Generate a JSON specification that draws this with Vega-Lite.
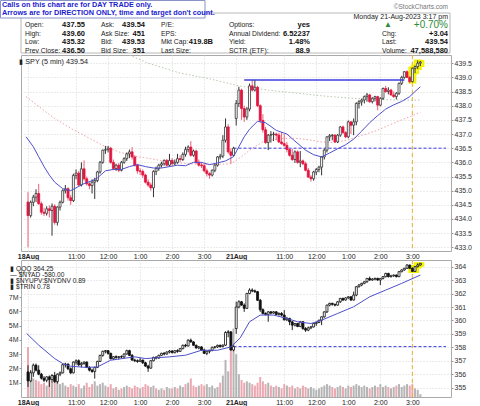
{
"$schema":"https://vega.github.io/schema/vega-lite/v6.json",
"padding":0,
"background":"white",
"bounds":"flush",
"spacing":9,
"config":{
 "font":"Liberation Sans",
 "view":{"stroke":"#aaaaaa"},
 "axis":{"labelFont":"Liberation Sans","labelFontSize":7,"labelColor":"#333333","domain":false,"ticks":false,"title":null,"labelPadding":2,"gridColor":"#d6d6d6","gridDash":[1,2]},
 "title":{"font":"Liberation Sans","fontWeight":"normal","color":"#222222"}
},
"datasets":{
"spy":[
{"i":0,"o":434.6,"h":434.95,"l":433.0,"c":434.12},{"i":1,"o":434.12,"h":434.65,"l":434.05,"c":434.59},{"i":2,"o":434.59,"h":434.85,"l":434.45,"c":434.77},{"i":3,"o":434.77,"h":435.05,"l":434.6,"c":434.9},{"i":4,"o":434.9,"h":435.24,"l":434.5,"c":434.54},{"i":5,"o":434.54,"h":434.62,"l":434.15,"c":434.24},{"i":6,"o":434.24,"h":434.4,"l":434.1,"c":434.2},{"i":7,"o":434.2,"h":434.45,"l":434.12,"c":434.36},{"i":8,"o":434.36,"h":434.48,"l":434.05,"c":434.3},{"i":9,"o":434.3,"h":434.55,"l":433.41,"c":434.45},
{"i":10,"o":434.45,"h":434.52,"l":433.8,"c":433.88},{"i":11,"o":433.88,"h":434.45,"l":433.77,"c":434.42},{"i":12,"o":434.42,"h":434.65,"l":434.3,"c":434.59},{"i":13,"o":434.59,"h":435.05,"l":434.55,"c":435.0},{"i":14,"o":435.0,"h":435.2,"l":434.9,"c":435.07},{"i":15,"o":435.07,"h":435.12,"l":434.65,"c":434.75},{"i":16,"o":434.75,"h":434.85,"l":434.5,"c":434.65},{"i":17,"o":434.65,"h":435.6,"l":434.6,"c":435.54},{"i":18,"o":435.54,"h":435.75,"l":435.4,"c":435.62},{"i":19,"o":435.62,"h":435.7,"l":435.15,"c":435.2},
{"i":20,"o":435.2,"h":436.0,"l":435.15,"c":435.77},{"i":21,"o":435.77,"h":436.07,"l":435.35,"c":435.42},{"i":22,"o":435.42,"h":435.5,"l":435.18,"c":435.24},{"i":23,"o":435.24,"h":435.3,"l":435.05,"c":435.18},{"i":24,"o":435.18,"h":435.4,"l":434.9,"c":435.3},{"i":25,"o":435.3,"h":435.45,"l":434.71,"c":435.36},{"i":26,"o":435.36,"h":435.7,"l":435.3,"c":435.66},{"i":27,"o":435.66,"h":436.05,"l":435.6,"c":436.0},{"i":28,"o":436.0,"h":436.45,"l":435.95,"c":436.43},{"i":29,"o":436.43,"h":436.58,"l":436.3,"c":436.45},
{"i":30,"o":436.45,"h":436.58,"l":436.35,"c":436.5},{"i":31,"o":436.5,"h":436.55,"l":435.95,"c":436.0},{"i":32,"o":436.0,"h":436.1,"l":435.72,"c":435.78},{"i":33,"o":435.78,"h":435.95,"l":435.7,"c":435.9},{"i":34,"o":435.9,"h":435.98,"l":435.65,"c":435.72},{"i":35,"o":435.72,"h":436.05,"l":435.68,"c":436.0},{"i":36,"o":436.0,"h":436.18,"l":435.95,"c":436.13},{"i":37,"o":436.13,"h":436.35,"l":436.05,"c":436.3},{"i":38,"o":436.3,"h":436.45,"l":436.15,"c":436.37},{"i":39,"o":436.37,"h":436.54,"l":436.1,"c":436.19},
{"i":40,"o":436.19,"h":436.25,"l":435.85,"c":435.9},{"i":41,"o":435.9,"h":435.95,"l":435.6,"c":435.7},{"i":42,"o":435.7,"h":435.8,"l":435.55,"c":435.68},{"i":43,"o":435.68,"h":435.75,"l":435.45,"c":435.55},{"i":44,"o":435.55,"h":435.6,"l":435.25,"c":435.3},{"i":45,"o":435.3,"h":435.4,"l":435.13,"c":435.2},{"i":46,"o":435.2,"h":435.28,"l":435.0,"c":435.1},{"i":47,"o":435.1,"h":435.72,"l":434.77,"c":435.68},{"i":48,"o":435.68,"h":435.85,"l":435.55,"c":435.78},{"i":49,"o":435.78,"h":435.95,"l":435.7,"c":435.9},
{"i":50,"o":435.9,"h":436.02,"l":435.82,"c":435.95},{"i":51,"o":435.95,"h":436.1,"l":435.88,"c":436.07},{"i":52,"o":436.07,"h":436.12,"l":435.85,"c":435.9},{"i":53,"o":435.9,"h":436.3,"l":435.85,"c":436.07},{"i":54,"o":436.07,"h":436.15,"l":435.88,"c":435.95},{"i":55,"o":435.95,"h":436.1,"l":435.9,"c":436.0},{"i":56,"o":436.0,"h":436.3,"l":435.95,"c":436.13},{"i":57,"o":436.13,"h":436.25,"l":436.0,"c":436.1},{"i":58,"o":436.1,"h":436.35,"l":436.05,"c":436.28},{"i":59,"o":436.28,"h":436.55,"l":436.2,"c":436.45},
{"i":60,"o":436.45,"h":436.6,"l":436.35,"c":436.54},{"i":61,"o":436.54,"h":436.75,"l":436.2,"c":436.25},{"i":62,"o":436.25,"h":436.45,"l":436.2,"c":436.4},{"i":63,"o":436.4,"h":436.45,"l":435.95,"c":436.0},{"i":64,"o":436.0,"h":436.1,"l":435.85,"c":435.9},{"i":65,"o":435.9,"h":436.0,"l":435.8,"c":435.88},{"i":66,"o":435.88,"h":435.95,"l":435.65,"c":435.7},{"i":67,"o":435.7,"h":435.78,"l":435.5,"c":435.6},{"i":68,"o":435.6,"h":435.65,"l":435.42,"c":435.55},{"i":69,"o":435.55,"h":435.75,"l":435.5,"c":435.72},
{"i":70,"o":435.72,"h":435.95,"l":435.65,"c":435.9},{"i":71,"o":435.9,"h":436.22,"l":435.85,"c":436.19},{"i":72,"o":436.19,"h":436.3,"l":436.1,"c":436.22},{"i":73,"o":436.22,"h":436.96,"l":436.15,"c":436.78},{"i":74,"o":436.78,"h":437.55,"l":436.7,"c":437.25},{"i":75,"o":437.25,"h":437.35,"l":436.3,"c":436.37},{"i":76,"o":436.37,"h":436.5,"l":435.95,"c":436.25},{"i":77,"o":436.25,"h":436.55,"l":436.2,"c":436.5},
{"i":78,"o":437.55,"h":438.2,"l":437.3,"c":438.08},{"i":79,"o":438.08,"h":438.67,"l":437.95,"c":438.55},{"i":80,"o":438.55,"h":438.6,"l":437.5,"c":437.9},{"i":81,"o":437.9,"h":438.0,"l":437.43,"c":437.6},{"i":82,"o":437.6,"h":437.95,"l":437.5,"c":437.88},{"i":83,"o":437.88,"h":438.78,"l":437.8,"c":438.7},{"i":84,"o":438.7,"h":438.91,"l":438.5,"c":438.55},{"i":85,"o":438.55,"h":438.91,"l":438.5,"c":438.65},{"i":86,"o":438.65,"h":438.7,"l":437.95,"c":438.0},{"i":87,"o":438.0,"h":438.05,"l":437.4,"c":437.48},
{"i":88,"o":437.48,"h":437.7,"l":437.05,"c":437.15},{"i":89,"o":437.15,"h":437.25,"l":436.65,"c":436.7},{"i":90,"o":436.7,"h":437.0,"l":436.43,"c":436.96},{"i":91,"o":436.96,"h":437.1,"l":436.7,"c":436.98},{"i":92,"o":436.98,"h":437.08,"l":436.75,"c":437.0},{"i":93,"o":437.0,"h":437.05,"l":436.78,"c":436.96},{"i":94,"o":436.96,"h":437.05,"l":436.68,"c":436.72},{"i":95,"o":436.72,"h":437.07,"l":436.62,"c":436.66},{"i":96,"o":436.66,"h":437.0,"l":436.55,"c":436.6},{"i":97,"o":436.6,"h":436.72,"l":436.35,"c":436.45},
{"i":98,"o":436.45,"h":436.5,"l":436.2,"c":436.25},{"i":99,"o":436.25,"h":436.48,"l":436.05,"c":436.1},{"i":100,"o":436.1,"h":436.42,"l":435.98,"c":436.37},{"i":101,"o":436.37,"h":436.42,"l":435.95,"c":436.0},{"i":102,"o":436.0,"h":436.4,"l":435.83,"c":436.05},{"i":103,"o":436.05,"h":436.1,"l":435.9,"c":435.95},{"i":104,"o":435.95,"h":436.02,"l":435.68,"c":435.72},{"i":105,"o":435.72,"h":435.8,"l":435.45,"c":435.48},{"i":106,"o":435.48,"h":435.55,"l":435.32,"c":435.42},{"i":107,"o":435.42,"h":435.7,"l":435.35,"c":435.66},
{"i":108,"o":435.66,"h":435.8,"l":435.55,"c":435.75},{"i":109,"o":435.75,"h":435.88,"l":435.65,"c":435.83},{"i":110,"o":435.83,"h":436.22,"l":435.54,"c":436.19},{"i":111,"o":436.19,"h":436.48,"l":436.1,"c":436.43},{"i":112,"o":436.43,"h":436.92,"l":436.35,"c":436.9},{"i":113,"o":436.9,"h":437.0,"l":436.75,"c":436.94},{"i":114,"o":436.94,"h":437.0,"l":436.78,"c":436.96},{"i":115,"o":436.96,"h":437.0,"l":436.68,"c":436.72},{"i":116,"o":436.72,"h":437.0,"l":436.68,"c":436.96},{"i":117,"o":436.96,"h":437.28,"l":436.9,"c":437.25},
{"i":118,"o":437.25,"h":437.3,"l":437.0,"c":437.05},{"i":119,"o":437.05,"h":437.1,"l":436.85,"c":436.9},{"i":120,"o":436.9,"h":437.48,"l":436.85,"c":437.43},{"i":121,"o":437.43,"h":437.45,"l":437.0,"c":437.31},{"i":122,"o":437.31,"h":437.55,"l":436.96,"c":437.43},{"i":123,"o":437.43,"h":438.12,"l":437.31,"c":438.08},{"i":124,"o":438.08,"h":438.2,"l":437.9,"c":438.14},{"i":125,"o":438.14,"h":438.25,"l":438.0,"c":438.2},{"i":126,"o":438.2,"h":438.36,"l":438.08,"c":438.32},{"i":127,"o":438.32,"h":438.45,"l":438.14,"c":438.38},
{"i":128,"o":438.38,"h":438.42,"l":438.1,"c":438.14},{"i":129,"o":438.14,"h":438.3,"l":438.08,"c":438.26},{"i":130,"o":438.26,"h":438.35,"l":438.15,"c":438.32},{"i":131,"o":438.32,"h":438.35,"l":437.84,"c":438.02},{"i":132,"o":438.02,"h":438.3,"l":437.98,"c":438.26},{"i":133,"o":438.26,"h":438.64,"l":438.2,"c":438.61},{"i":134,"o":438.61,"h":438.7,"l":438.45,"c":438.5},{"i":135,"o":438.5,"h":438.65,"l":438.4,"c":438.55},{"i":136,"o":438.55,"h":438.6,"l":438.35,"c":438.38},{"i":137,"o":438.38,"h":438.5,"l":438.28,"c":438.32},
{"i":138,"o":438.32,"h":438.48,"l":438.22,"c":438.44},{"i":139,"o":438.44,"h":438.82,"l":438.38,"c":438.79},{"i":140,"o":438.79,"h":439.05,"l":438.73,"c":439.0},{"i":141,"o":439.0,"h":439.22,"l":438.95,"c":439.2},{"i":142,"o":439.2,"h":439.25,"l":438.98,"c":439.0},{"i":143,"o":439.0,"h":439.05,"l":438.79,"c":438.85},{"i":144,"o":438.85,"h":439.35,"l":438.82,"c":439.32},{"i":145,"o":439.32,"h":439.42,"l":439.15,"c":439.38},{"i":146,"o":439.38,"h":439.6,"l":439.3,"c":439.5},{"i":147,"o":439.5,"h":439.58,"l":439.4,"c":439.54}
],
"qqq":[
{"i":0,"o":356.17,"h":356.66,"l":355.05,"c":355.5,"v":3.5},{"i":1,"o":355.5,"h":356.3,"l":355.4,"c":356.1,"v":1.8},{"i":2,"o":356.1,"h":356.79,"l":355.8,"c":356.67,"v":1.3},{"i":3,"o":356.67,"h":356.79,"l":356.2,"c":356.3,"v":1.2},{"i":4,"o":356.3,"h":356.66,"l":355.92,"c":356.0,"v":1.1},{"i":5,"o":356.0,"h":356.1,"l":355.6,"c":355.7,"v":0.9},{"i":6,"o":355.7,"h":355.85,"l":355.42,"c":355.55,"v":1.0},{"i":7,"o":355.55,"h":355.85,"l":355.4,"c":355.8,"v":0.8},{"i":8,"o":355.8,"h":355.9,"l":355.05,"c":355.6,"v":1.2},{"i":9,"o":355.6,"h":356.0,"l":355.35,"c":355.9,"v":1.0},
{"i":10,"o":355.9,"h":356.17,"l":355.35,"c":355.45,"v":1.3},{"i":11,"o":355.45,"h":356.05,"l":355.3,"c":356.0,"v":1.1},{"i":12,"o":356.0,"h":356.2,"l":355.85,"c":356.1,"v":0.9},{"i":13,"o":356.1,"h":356.79,"l":356.05,"c":356.7,"v":1.0},{"i":14,"o":356.7,"h":356.85,"l":356.5,"c":356.75,"v":0.8},{"i":15,"o":356.75,"h":356.8,"l":356.3,"c":356.4,"v":0.7},{"i":16,"o":356.4,"h":356.5,"l":356.0,"c":356.1,"v":0.9},{"i":17,"o":356.1,"h":356.95,"l":356.05,"c":356.9,"v":0.8},{"i":18,"o":356.9,"h":357.1,"l":356.7,"c":357.0,"v":0.7},{"i":19,"o":357.0,"h":357.1,"l":356.6,"c":356.7,"v":0.9},
{"i":20,"o":356.7,"h":356.9,"l":356.5,"c":356.8,"v":0.6},{"i":21,"o":356.8,"h":356.95,"l":356.7,"c":356.9,"v":0.8},{"i":22,"o":356.9,"h":356.95,"l":356.45,"c":356.5,"v":1.0},{"i":23,"o":356.5,"h":356.6,"l":356.2,"c":356.3,"v":0.7},{"i":24,"o":356.3,"h":356.4,"l":356.1,"c":356.2,"v":0.9},{"i":25,"o":356.2,"h":356.55,"l":355.67,"c":356.5,"v":1.1},{"i":26,"o":356.5,"h":357.0,"l":356.45,"c":356.95,"v":0.8},{"i":27,"o":356.95,"h":357.45,"l":356.9,"c":357.4,"v":0.9},{"i":28,"o":357.4,"h":357.75,"l":357.3,"c":357.7,"v":1.0},{"i":29,"o":357.7,"h":357.8,"l":357.55,"c":357.75,"v":0.8},
{"i":30,"o":357.75,"h":357.8,"l":357.45,"c":357.55,"v":0.7},{"i":31,"o":357.55,"h":357.6,"l":357.1,"c":357.15,"v":0.9},{"i":32,"o":357.15,"h":357.35,"l":357.05,"c":357.3,"v":0.6},{"i":33,"o":357.3,"h":357.4,"l":357.15,"c":357.25,"v":0.7},{"i":34,"o":357.25,"h":357.35,"l":357.1,"c":357.3,"v":0.5},{"i":35,"o":357.3,"h":357.4,"l":357.2,"c":357.28,"v":0.6},{"i":36,"o":357.28,"h":357.55,"l":357.2,"c":357.5,"v":0.7},{"i":37,"o":357.5,"h":357.82,"l":357.45,"c":357.75,"v":0.8},{"i":38,"o":357.75,"h":357.82,"l":357.35,"c":357.4,"v":0.7},{"i":39,"o":357.4,"h":357.5,"l":357.0,"c":357.05,"v":0.6},
{"i":40,"o":357.05,"h":357.15,"l":356.9,"c":357.0,"v":0.8},{"i":41,"o":357.0,"h":357.1,"l":356.85,"c":356.95,"v":0.7},{"i":42,"o":356.95,"h":357.2,"l":356.9,"c":357.05,"v":0.6},{"i":43,"o":357.05,"h":357.08,"l":356.75,"c":356.85,"v":0.7},{"i":44,"o":356.85,"h":356.92,"l":356.55,"c":356.6,"v":0.9},{"i":45,"o":356.6,"h":356.7,"l":356.17,"c":356.45,"v":0.8},{"i":46,"o":356.45,"h":357.05,"l":356.4,"c":357.0,"v":0.7},{"i":47,"o":357.0,"h":357.3,"l":356.95,"c":357.25,"v":0.8},{"i":48,"o":357.25,"h":357.35,"l":357.1,"c":357.2,"v":0.6},{"i":49,"o":357.2,"h":357.45,"l":357.15,"c":357.4,"v":0.5},
{"i":50,"o":357.4,"h":357.6,"l":357.35,"c":357.55,"v":0.6},{"i":51,"o":357.55,"h":357.65,"l":357.4,"c":357.5,"v":0.5},{"i":52,"o":357.5,"h":357.7,"l":357.45,"c":357.65,"v":0.7},{"i":53,"o":357.65,"h":357.8,"l":357.55,"c":357.72,"v":0.6},{"i":54,"o":357.72,"h":357.8,"l":357.55,"c":357.6,"v":0.6},{"i":55,"o":357.6,"h":357.8,"l":357.55,"c":357.75,"v":0.7},{"i":56,"o":357.75,"h":357.85,"l":357.6,"c":357.7,"v":0.6},{"i":57,"o":357.7,"h":357.95,"l":357.65,"c":357.9,"v":0.8},{"i":58,"o":357.9,"h":358.2,"l":357.85,"c":358.15,"v":0.7},{"i":59,"o":358.15,"h":358.25,"l":358.0,"c":358.1,"v":0.9},
{"i":60,"o":358.1,"h":358.6,"l":358.05,"c":358.53,"v":1.0},{"i":61,"o":358.53,"h":358.65,"l":358.35,"c":358.4,"v":1.3},{"i":62,"o":358.4,"h":358.45,"l":358.1,"c":358.15,"v":0.8},{"i":63,"o":358.15,"h":358.2,"l":357.9,"c":357.95,"v":0.7},{"i":64,"o":357.95,"h":358.1,"l":357.85,"c":358.03,"v":0.8},{"i":65,"o":358.03,"h":358.08,"l":357.75,"c":357.8,"v":0.9},{"i":66,"o":357.8,"h":357.9,"l":357.5,"c":357.55,"v":0.8},{"i":67,"o":357.55,"h":357.75,"l":357.41,"c":357.7,"v":0.9},{"i":68,"o":357.7,"h":357.8,"l":357.55,"c":357.78,"v":0.7},{"i":69,"o":357.78,"h":358.05,"l":357.7,"c":358.0,"v":0.8},
{"i":70,"o":358.0,"h":358.1,"l":357.9,"c":358.03,"v":0.6},{"i":71,"o":358.03,"h":358.2,"l":357.95,"c":358.15,"v":0.7},{"i":72,"o":358.15,"h":358.2,"l":357.98,"c":358.05,"v":1.0},{"i":73,"o":358.05,"h":358.22,"l":358.0,"c":358.16,"v":1.5},{"i":74,"o":358.16,"h":359.2,"l":358.1,"c":359.1,"v":2.6},{"i":75,"o":359.1,"h":359.28,"l":358.75,"c":359.15,"v":1.8},{"i":76,"o":359.15,"h":359.2,"l":357.75,"c":357.8,"v":3.6},{"i":77,"o":357.8,"h":358.15,"l":357.7,"c":358.05,"v":4.8},
{"i":78,"o":359.4,"h":361.4,"l":359.0,"c":361.0,"v":3.0},{"i":79,"o":361.0,"h":361.5,"l":360.9,"c":361.39,"v":1.6},{"i":80,"o":361.39,"h":361.45,"l":361.1,"c":361.14,"v":1.2},{"i":81,"o":361.14,"h":361.27,"l":360.64,"c":360.9,"v":1.0},{"i":82,"o":360.9,"h":362.05,"l":360.85,"c":362.01,"v":1.1},{"i":83,"o":362.01,"h":362.39,"l":361.95,"c":362.26,"v":1.0},{"i":84,"o":362.26,"h":362.39,"l":362.1,"c":362.2,"v":0.9},{"i":85,"o":362.2,"h":362.3,"l":362.05,"c":362.14,"v":0.8},{"i":86,"o":362.14,"h":362.2,"l":361.45,"c":361.5,"v":1.0},{"i":87,"o":361.5,"h":361.6,"l":360.64,"c":360.8,"v":1.4},
{"i":88,"o":360.8,"h":360.9,"l":360.45,"c":360.52,"v":1.1},{"i":89,"o":360.52,"h":360.6,"l":360.38,"c":360.45,"v":0.9},{"i":90,"o":360.45,"h":360.7,"l":359.9,"c":360.64,"v":1.0},{"i":91,"o":360.64,"h":360.7,"l":360.45,"c":360.55,"v":0.8},{"i":92,"o":360.55,"h":360.7,"l":360.5,"c":360.64,"v":0.7},{"i":93,"o":360.64,"h":360.7,"l":360.4,"c":360.45,"v":0.8},{"i":94,"o":360.45,"h":360.6,"l":360.35,"c":360.52,"v":0.7},{"i":95,"o":360.52,"h":360.62,"l":360.3,"c":360.4,"v":0.6},{"i":96,"o":360.4,"h":360.77,"l":360.0,"c":360.05,"v":0.9},{"i":97,"o":360.05,"h":360.27,"l":359.95,"c":360.15,"v":0.8},
{"i":98,"o":360.15,"h":360.2,"l":359.65,"c":359.9,"v":0.7},{"i":99,"o":359.9,"h":359.95,"l":359.28,"c":359.65,"v":0.8},{"i":100,"o":359.65,"h":359.8,"l":359.55,"c":359.77,"v":0.6},{"i":101,"o":359.77,"h":359.8,"l":359.5,"c":359.55,"v":0.7},{"i":102,"o":359.55,"h":359.95,"l":359.5,"c":359.9,"v":0.6},{"i":103,"o":359.9,"h":359.95,"l":359.3,"c":359.4,"v":0.8},{"i":104,"o":359.4,"h":359.5,"l":359.15,"c":359.28,"v":0.7},{"i":105,"o":359.28,"h":359.55,"l":359.2,"c":359.45,"v":0.6},{"i":106,"o":359.45,"h":359.6,"l":359.35,"c":359.52,"v":0.7},{"i":107,"o":359.52,"h":359.8,"l":359.48,"c":359.77,"v":0.6},
{"i":108,"o":359.77,"h":359.9,"l":359.6,"c":359.85,"v":0.5},{"i":109,"o":359.85,"h":360.05,"l":359.8,"c":360.02,"v":0.6},{"i":110,"o":360.02,"h":360.3,"l":359.65,"c":360.27,"v":0.7},{"i":111,"o":360.27,"h":360.68,"l":360.2,"c":360.64,"v":0.8},{"i":112,"o":360.64,"h":361.18,"l":360.55,"c":361.14,"v":0.9},{"i":113,"o":361.14,"h":361.32,"l":361.05,"c":361.27,"v":0.8},{"i":114,"o":361.27,"h":361.32,"l":361.1,"c":361.2,"v":0.7},{"i":115,"o":361.2,"h":361.25,"l":361.05,"c":361.14,"v":0.6},{"i":116,"o":361.14,"h":361.45,"l":361.1,"c":361.39,"v":0.7},{"i":117,"o":361.39,"h":361.68,"l":361.3,"c":361.64,"v":0.8},
{"i":118,"o":361.64,"h":361.7,"l":361.45,"c":361.52,"v":0.7},{"i":119,"o":361.52,"h":361.72,"l":361.48,"c":361.68,"v":0.6},{"i":120,"o":361.68,"h":361.8,"l":361.6,"c":361.76,"v":0.8},{"i":121,"o":361.76,"h":361.8,"l":361.45,"c":361.52,"v":0.7},{"i":122,"o":361.52,"h":362.14,"l":361.48,"c":361.89,"v":0.8},{"i":123,"o":361.89,"h":362.55,"l":361.8,"c":362.51,"v":0.9},{"i":124,"o":362.51,"h":362.7,"l":362.45,"c":362.64,"v":0.8},{"i":125,"o":362.64,"h":362.8,"l":362.55,"c":362.76,"v":0.7},{"i":126,"o":362.76,"h":362.92,"l":362.7,"c":362.88,"v":0.8},{"i":127,"o":362.88,"h":363.15,"l":362.8,"c":363.13,"v":0.7},
{"i":128,"o":363.13,"h":363.26,"l":362.95,"c":363.01,"v":0.6},{"i":129,"o":363.01,"h":363.15,"l":362.95,"c":363.08,"v":0.7},{"i":130,"o":363.08,"h":363.18,"l":362.98,"c":363.13,"v":0.8},{"i":131,"o":363.13,"h":363.18,"l":362.95,"c":363.01,"v":0.7},{"i":132,"o":363.01,"h":363.15,"l":362.63,"c":363.13,"v":0.9},{"i":133,"o":363.13,"h":363.3,"l":363.05,"c":363.26,"v":0.7},{"i":134,"o":363.26,"h":363.55,"l":363.2,"c":363.5,"v":0.8},{"i":135,"o":363.5,"h":363.55,"l":363.2,"c":363.26,"v":0.7},{"i":136,"o":363.26,"h":363.4,"l":363.2,"c":363.32,"v":0.6},{"i":137,"o":363.32,"h":363.42,"l":363.25,"c":363.38,"v":0.7},
{"i":138,"o":363.38,"h":363.42,"l":363.2,"c":363.26,"v":0.8},{"i":139,"o":363.26,"h":363.68,"l":363.22,"c":363.63,"v":0.9},{"i":140,"o":363.63,"h":363.8,"l":363.58,"c":363.76,"v":0.7},{"i":141,"o":363.76,"h":363.92,"l":363.7,"c":363.88,"v":0.8},{"i":142,"o":363.88,"h":364.18,"l":363.85,"c":364.13,"v":0.9},{"i":143,"o":364.13,"h":364.15,"l":363.85,"c":363.88,"v":0.8},{"i":144,"o":363.88,"h":363.95,"l":363.6,"c":363.65,"v":0.9},{"i":145,"o":363.65,"h":364.05,"l":363.6,"c":364.0,"v":0.6},{"i":146,"o":364.0,"h":364.25,"l":363.95,"c":364.13,"v":0.5},{"i":147,"o":364.13,"h":364.25,"l":364.08,"c":364.25,"v":0.2}
],
"spyma":[{"i":-0.7,"v":436.9},{"i":2,"v":436.55},{"i":4,"v":436.2},{"i":6,"v":435.85},{"i":8,"v":435.55},{"i":10,"v":435.3},{"i":13,"v":435.07},{"i":16,"v":435.0},{"i":19,"v":435.15},{"i":21,"v":435.25},{"i":24,"v":435.35},{"i":26,"v":435.45},{"i":29,"v":435.7},{"i":32,"v":435.75},{"i":35,"v":435.75},{"i":38,"v":435.85},{"i":41,"v":435.92},{"i":44,"v":435.85},{"i":47,"v":435.8},{"i":50,"v":435.8},{"i":53,"v":435.85},{"i":56,"v":435.9},{"i":59,"v":435.88},{"i":62,"v":436.0},{"i":65,"v":436.0},{"i":68,"v":435.92},{"i":71,"v":435.98},{"i":74,"v":436.05},{"i":77,"v":436.2},{"i":79,"v":436.55},{"i":81,"v":436.9},{"i":83,"v":437.17},{"i":86,"v":437.45},{"i":89,"v":437.4},{"i":93,"v":437.13},{"i":97,"v":437.0},{"i":100,"v":436.75},{"i":104,"v":436.43},{"i":107,"v":436.27},{"i":110,"v":436.19},{"i":113,"v":436.33},{"i":116,"v":436.48},{"i":119,"v":436.62},{"i":122,"v":436.82},{"i":125,"v":437.1},{"i":128,"v":437.4},{"i":131,"v":437.65},{"i":134,"v":437.88},{"i":137,"v":438.03},{"i":140,"v":438.15},{"i":143,"v":438.32},{"i":145,"v":438.5},{"i":147,"v":438.67}],
"ma50":[{"i":-0.7,"v":438.32},{"i":5,"v":437.9},{"i":10,"v":437.55},{"i":16,"v":437.2},{"i":22,"v":436.9},{"i":28,"v":436.6},{"i":34,"v":436.37},{"i":40,"v":436.22},{"i":46,"v":436.13},{"i":52,"v":436.02},{"i":58,"v":435.97},{"i":64,"v":435.93},{"i":70,"v":435.92},{"i":76,"v":435.95},{"i":80,"v":436.2},{"i":84,"v":436.5},{"i":88,"v":436.72},{"i":94,"v":436.84},{"i":100,"v":436.85},{"i":105,"v":436.8},{"i":110,"v":436.72},{"i":115,"v":436.7},{"i":120,"v":436.8},{"i":125,"v":436.95},{"i":130,"v":437.1},{"i":135,"v":437.3},{"i":140,"v":437.5},{"i":147,"v":437.76}],
"ma200":[{"i":33,"v":439.95},{"i":38,"v":439.79},{"i":45,"v":439.5},{"i":57,"v":439.15},{"i":68,"v":438.95},{"i":79,"v":438.7},{"i":90,"v":438.55},{"i":100,"v":438.45},{"i":110,"v":438.35},{"i":120,"v":438.27},{"i":130,"v":438.22},{"i":140,"v":438.2},{"i":147,"v":438.2}],
"qma":[{"i":-0.5,"v":359.03},{"i":4,"v":358.16},{"i":10,"v":357.16},{"i":13,"v":356.79},{"i":16,"v":356.59},{"i":22,"v":356.5},{"i":26,"v":356.54},{"i":31,"v":357.04},{"i":40,"v":357.29},{"i":44,"v":357.16},{"i":53,"v":357.29},{"i":59,"v":357.41},{"i":65,"v":357.78},{"i":71,"v":357.78},{"i":76,"v":358.03},{"i":79.5,"v":358.7},{"i":83,"v":359.9},{"i":87,"v":360.4},{"i":92,"v":360.4},{"i":97,"v":360.15},{"i":101,"v":359.9},{"i":106,"v":359.77},{"i":110,"v":360.02},{"i":116,"v":360.52},{"i":122,"v":361.02},{"i":128,"v":361.76},{"i":134,"v":362.26},{"i":140,"v":362.76},{"i":147,"v":363.38}]
},
"vconcat":[
{
 "width":430,"height":33,
 "view":{"stroke":null},
 "layer":[
  {"data":{"values":[{"a":0,"b":1}]},"mark":{"type":"rect","fill":"white","stroke":"#b8b8b8","strokeWidth":1},
   "encoding":{"x":{"field":"a","type":"quantitative","scale":{"domain":[0,1],"range":[0,429]},"axis":null},"x2":{"field":"b"},
    "y":{"field":"a","type":"quantitative","scale":{"domain":[0,1],"range":[0,40]},"axis":null},"y2":{"field":"b"}}},
  {"data":{"values":[{"a":0,"b":1}]},"mark":{"type":"rect","fill":"white","stroke":"#8a93c8","strokeWidth":1},
   "encoding":{"x":{"field":"a","type":"quantitative","scale":{"domain":[0,1],"range":[-20.5,184]},"axis":null},"x2":{"field":"b"},
    "y":{"field":"a","type":"quantitative","scale":{"domain":[0,1],"range":[-12.5,5]},"axis":null},"y2":{"field":"b"}}},
  {"data":{"values":[{"c":0,"r":-1.35,"t":"Calls on this chart are for DAY TRADE only."},{"c":0,"r":-0.47,"t":"Arrows are for DIRECTION ONLY, time and target don't count."}]},
   "mark":{"type":"text","align":"left","baseline":"middle","fontSize":7.3,"fontWeight":"bold","color":"#1c1cd0"},
   "encoding":{"x":{"field":"c","type":"quantitative","scale":{"domain":[0,1],"range":[-19,0]},"axis":null},
    "y":{"field":"r","type":"quantitative","scale":{"domain":[0,4],"range":[3.5,37.5]},"axis":null},"text":{"field":"t"}}},
  {"data":{"values":[
    {"c":0,"r":1,"t":"Open:"},{"c":0,"r":2,"t":"High:"},{"c":0,"r":3,"t":"Low:"},{"c":0,"r":4,"t":"Prev Close:"},
    {"c":1,"r":1,"t":"Ask:"},{"c":1,"r":2,"t":"Ask Size:"},{"c":1,"r":3,"t":"Bid:"},{"c":1,"r":4,"t":"Bid Size:"},
    {"c":2,"r":1,"t":"P/E:"},{"c":2,"r":2,"t":"EPS:"},{"c":2,"r":3,"t":"Mkt Cap:"},{"c":2,"r":4,"t":"Last Size:"},
    {"c":3,"r":1,"t":"Options:"},{"c":3,"r":2,"t":"Annual Dividend:"},{"c":3,"r":3,"t":"Yield:"},{"c":3,"r":4,"t":"SCTR (ETF):"},
    {"c":4,"r":2,"t":"Chg:"},{"c":4,"r":3,"t":"Last:"},{"c":4,"r":4,"t":"Volume:"}]},
   "mark":{"type":"text","align":"left","baseline":"middle","fontSize":6.8,"color":"#222222"},
   "encoding":{"x":{"field":"c","type":"quantitative","scale":{"domain":[0,1,2,3,4],"range":[4,80,140,208,361]},"axis":null},
    "y":{"field":"r","type":"quantitative","scale":{"domain":[0,4],"range":[3.5,37.5]},"axis":null},"text":{"field":"t"}}},
  {"data":{"values":[
    {"c":0,"r":1,"t":"437.55"},{"c":0,"r":2,"t":"439.60"},{"c":0,"r":3,"t":"435.32"},{"c":0,"r":4,"t":"436.50"},
    {"c":1,"r":1,"t":"439.54"},{"c":1,"r":2,"t":"451"},{"c":1,"r":3,"t":"439.53"},{"c":1,"r":4,"t":"351"},
    {"c":2,"r":3,"t":"419.8B"},
    {"c":3,"r":1,"t":"yes"},{"c":3,"r":2,"t":"6.52237"},{"c":3,"r":3,"t":"1.48%"},{"c":3,"r":4,"t":"88.9"},
    {"c":4,"r":2,"t":"+3.04"},{"c":4,"r":3,"t":"439.54"},{"c":4,"r":4,"t":"47,588,580"}]},
   "mark":{"type":"text","align":"right","baseline":"middle","fontSize":7.5,"fontWeight":"bold","color":"#111111"},
   "encoding":{"x":{"field":"c","type":"quantitative","scale":{"domain":[0,1,2,3,4],"range":[64,124,192,289,427]},"axis":null},
    "y":{"field":"r","type":"quantitative","scale":{"domain":[0,4],"range":[3.5,37.5]},"axis":null},"text":{"field":"t"}}},
  {"data":{"values":[{"c":0,"r":1,"k":"a","t":"▲"},{"c":1,"r":1,"k":"p","t":"+0.70%"}]},
   "mark":{"type":"text","align":"right","baseline":"middle","color":"#2e8b35"},
   "encoding":{"x":{"field":"c","type":"quantitative","scale":{"domain":[0,1],"range":[371,427]},"axis":null},
    "y":{"field":"r","type":"quantitative","scale":{"domain":[0,4],"range":[3.5,37.5]},"axis":null},"text":{"field":"t"},
    "size":{"condition":{"test":"datum.k=='p'","value":10},"value":8}}},
  {"data":{"values":[{"c":1,"r":0,"k":"d","t":"Monday  21-Aug-2023  3:17 pm"},{"c":1,"r":-1.1,"k":"s","t":"©StockCharts.com"}]},
   "mark":{"type":"text","align":"right","baseline":"middle"},
   "encoding":{"x":{"field":"c","type":"quantitative","scale":{"domain":[0,1],"range":[0,427]},"axis":null},
    "y":{"field":"r","type":"quantitative","scale":{"domain":[0,4],"range":[3.5,37.5]},"axis":null},"text":{"field":"t"},
    "size":{"condition":{"test":"datum.k=='s'","value":6.5},"value":7},
    "color":{"condition":{"test":"datum.k=='s'","value":"#777777"},"value":"#222222"}}}
 ],
 "resolve":{"scale":{"x":"independent","y":"independent"}}
},
{
 "width":430,"height":196,
 "title":{"text":"▮ SPY (5 min) 439.54","anchor":"start","orient":"top","offset":-11,"baseline":"top","fontSize":7.2,"dx":2},
 "layer":[
  {"data":{"name":"spy"},"mark":{"type":"rule","strokeWidth":1,"opacity":0},
   "encoding":{"x":{"field":"i","type":"quantitative","scale":{"domain":[-0.75,156.6],"nice":false,"zero":false},
     "axis":{"title":null,"values":[0,18,30,42,54,66,78,96,108,120,132,144],"tickCount":200,"labelExpr":"datum.value == 0 ? '18Aug' : datum.value == 78 ? '21Aug' : datum.value == 18 || datum.value == 96 ? '11:00' : datum.value == 30 || datum.value == 108 ? '12:00' : datum.value == 42 || datum.value == 120 ? '1:00' : datum.value == 54 || datum.value == 132 ? '2:00' : '3:00'","grid":true,"labelFlush":false,"labelOverlap":false,"labelBound":false,"labelPadding":1,"labelColor":"#222222","labelFontWeight":{"condition":{"test":"datum.value == 0 || datum.value == 78","value":"bold"},"value":"normal"}}},
    "y":{"field":"l","type":"quantitative","scale":{"domain":[432.87,439.79],"nice":false,"zero":false},
     "axis":{"title":null,"orient":"right","values":[433,433.5,434,434.5,435,435.5,436,436.5,437,437.5,438,438.5,439,439.5],"tickCount":200,"labelOverlap":false,"format":".1f","grid":true,"ticks":true,"tickSize":2,"tickColor":"#999999","labelPadding":1}},
    "y2":{"field":"h"}}},
  {"data":{"values":[{"i":144}]},"mark":{"type":"rule","color":"#f0b030","strokeDash":[4,3],"strokeWidth":1},
   "encoding":{"x":{"field":"i","type":"quantitative"}}},
  {"data":{"name":"ma200"},"mark":{"type":"line","color":"#b7c9ad","strokeDash":[1.5,2],"strokeWidth":1,"clip":true},
   "encoding":{"x":{"field":"i","type":"quantitative"},"y":{"field":"v","type":"quantitative"}}},
  {"data":{"name":"ma50"},"mark":{"type":"line","color":"#f2a3a8","strokeDash":[1.5,2],"strokeWidth":1,"clip":true},
   "encoding":{"x":{"field":"i","type":"quantitative"},"y":{"field":"v","type":"quantitative"}}},
  {"data":{"values":[{"a":77,"b":156.6,"v":436.5}]},"mark":{"type":"rule","color":"#3a3ae0","strokeDash":[3,2],"strokeWidth":1},
   "encoding":{"x":{"field":"a","type":"quantitative"},"x2":{"field":"b"},"y":{"field":"v","type":"quantitative"}}},
  {"data":{"name":"spy"},"transform":[{"filter":"datum.i >= 144"}],"mark":{"type":"bar","size":6,"color":"#ffff3a","stroke":"#f2f200","strokeWidth":2},
   "encoding":{"x":{"field":"i","type":"quantitative"},"y":{"field":"l","type":"quantitative"},"y2":{"field":"h"}}},
  {"data":{"name":"spy"},"mark":{"type":"rule","strokeWidth":1},
   "encoding":{"x":{"field":"i","type":"quantitative"},"y":{"field":"l","type":"quantitative"},"y2":{"field":"h"},
    "color":{"condition":{"test":"datum.c >= datum.o","value":"#333333"},"value":"#ec6078"}}},
  {"data":{"name":"spy"},"mark":{"type":"bar","size":2,"strokeWidth":0.8},
   "encoding":{"x":{"field":"i","type":"quantitative"},"y":{"field":"o","type":"quantitative"},"y2":{"field":"c"},
    "fill":{"condition":{"test":"datum.c >= datum.o","value":"#ffffff"},"value":"#e3143f"},
    "stroke":{"condition":{"test":"datum.c >= datum.o","value":"#333333"},"value":"#e3143f"}}},
  {"data":{"name":"spyma"},"mark":{"type":"line","color":"#4f4fcc","strokeWidth":1},
   "encoding":{"x":{"field":"i","type":"quantitative"},"y":{"field":"v","type":"quantitative"}}},
  {"data":{"values":[{"a":81,"b":141,"v":438.91}]},"mark":{"type":"rule","color":"#3d3ddb","strokeWidth":1.5},
   "encoding":{"x":{"field":"a","type":"quantitative"},"x2":{"field":"b"},"y":{"field":"v","type":"quantitative"}}}
 ]
},
{
 "width":430,"height":137,
 "title":{"text":["▮ QQQ 364.25","— $NYAD -580.00","▮ $NYUPV:$NYDNV 0.89","▮ $TRIN 0.78"],"anchor":"start","orient":"top","offset":-31,"baseline":"top","fontSize":6.6,"lineHeight":6.1,"dx":2},
 "layer":[
  {"data":{"name":"qqq"},"mark":{"type":"bar","size":2},
   "encoding":{"x":{"field":"i","type":"quantitative","scale":{"domain":[-0.75,156.6],"nice":false,"zero":false},
     "axis":{"title":null,"values":[0,18,30,42,54,66,78,96,108,120,132,144],"tickCount":200,"labelExpr":"datum.value == 0 ? '18Aug' : datum.value == 78 ? '21Aug' : datum.value == 18 || datum.value == 96 ? '11:00' : datum.value == 30 || datum.value == 108 ? '12:00' : datum.value == 42 || datum.value == 120 ? '1:00' : datum.value == 54 || datum.value == 132 ? '2:00' : '3:00'","grid":true,"labelFlush":false,"labelOverlap":false,"labelBound":false,"labelPadding":1,"labelColor":"#222222","labelFontWeight":{"condition":{"test":"datum.value == 0 || datum.value == 78","value":"bold"},"value":"normal"}}},
    "y":{"field":"v","type":"quantitative","scale":{"domain":[0,9.6],"nice":false,"zero":false},
     "axis":{"title":null,"orient":"left","values":[1,2,3,4,5,6,7],"tickCount":200,"labelOverlap":false,"labelExpr":"datum.value + 'M'","grid":false,"ticks":true,"tickSize":2,"tickColor":"#999999","labelPadding":1}},
    "color":{"condition":{"test":"datum.c >= datum.o","value":"#b5b5b5"},"value":"#eca8b1"}}},
  {"layer":[
   {"data":{"values":[{"a":77,"b":156.6,"v":358.05}]},"mark":{"type":"rule","color":"#3a3ae0","strokeDash":[3,2],"strokeWidth":1},
    "encoding":{"x":{"field":"a","type":"quantitative"},"x2":{"field":"b"},
     "y":{"field":"v","type":"quantitative","scale":{"domain":[354.3,364.5],"nice":false,"zero":false},
      "axis":{"title":null,"orient":"right","values":[355,356,357,358,359,360,361,362,363,364],"tickCount":200,"labelOverlap":false,"format":"d","grid":true,"ticks":true,"tickSize":2,"tickColor":"#999999","labelPadding":1}}}},
   {"data":{"values":[{"i":144}]},"mark":{"type":"rule","color":"#f0b030","strokeDash":[4,3],"strokeWidth":1},
    "encoding":{"x":{"field":"i","type":"quantitative"}}},
   {"data":{"name":"qqq"},"transform":[{"filter":"datum.i >= 144"}],"mark":{"type":"bar","size":6,"color":"#ffff3a","stroke":"#f2f200","strokeWidth":2},
    "encoding":{"x":{"field":"i","type":"quantitative"},"y":{"field":"l","type":"quantitative"},"y2":{"field":"h"}}},
   {"data":{"name":"qqq"},"mark":{"type":"rule","strokeWidth":1,"color":"#222222"},
    "encoding":{"x":{"field":"i","type":"quantitative"},"y":{"field":"l","type":"quantitative"},"y2":{"field":"h"}}},
   {"data":{"name":"qqq"},"mark":{"type":"bar","size":2,"strokeWidth":0.8,"stroke":"#111111"},
    "encoding":{"x":{"field":"i","type":"quantitative"},"y":{"field":"o","type":"quantitative"},"y2":{"field":"c"},
     "fill":{"condition":{"test":"datum.c >= datum.o","value":"#ffffff"},"value":"#111111"}}},
   {"data":{"name":"qma"},"mark":{"type":"line","color":"#4f4fcc","strokeWidth":1},
    "encoding":{"x":{"field":"i","type":"quantitative"},"y":{"field":"v","type":"quantitative"}}}
  ]}
 ],
 "resolve":{"scale":{"y":"independent"},"axis":{"y":"independent"}}
}
]
}
